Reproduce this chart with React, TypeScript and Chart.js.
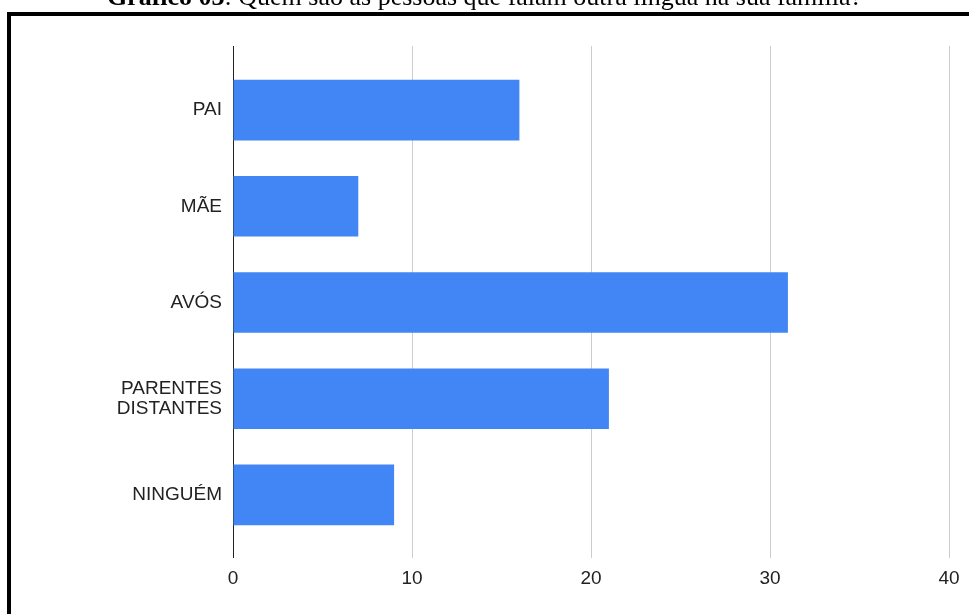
import React, { useEffect, useRef } from "react";
import { Chart, registerables } from "chart.js";

Chart.register(...registerables);

const categories: (string | string[])[] = ["PAI", "MÃE", "AVÓS", ["PARENTES", "DISTANTES"], "NINGUÉM"];
const values: number[] = [16, 7, 31, 21, 9];
const xTicks: number[] = [0, 10, 20, 30, 40];

const gridColor = (ctx: any) => (ctx.tick && ctx.tick.value === 0 ? "#222222" : "#cccccc");

export default function App() {
  const ref = useRef<HTMLCanvasElement>(null);
  useEffect(() => {
    if (!ref.current) return;
    const chart = new Chart(ref.current, {
      type: "bar",
      data: {
        labels: categories,
        datasets: [
          {
            data: values,
            backgroundColor: "#4285F4",
            borderWidth: 0,
            barPercentage: 0.9,
            categoryPercentage: 0.7,
          },
        ],
      },
      options: {
        indexAxis: "y",
        animation: false,
        responsive: false,
        layout: { padding: { top: 46, left: 0, right: 20, bottom: 0 } },
        plugins: { legend: { display: false }, tooltip: { enabled: false }, title: { display: false } },
        scales: {
          x: {
            type: "linear",
            position: "bottom",
            min: xTicks[0],
            max: xTicks[xTicks.length - 1],
            afterBuildTicks: (s: any) => {
              s.ticks = xTicks.map((v) => ({ value: v }));
            },
            afterFit: (s: any) => {
              s.height = 71;
            },
            border: { display: false },
            grid: { color: gridColor, lineWidth: 1, tickLength: 15, drawTicks: true },
            ticks: {
              color: "#222222",
              padding: 9,
              font: { family: "'Liberation Sans', Arial, sans-serif", size: 19 },
            },
          },
          xTop: {
            type: "linear",
            position: "top",
            min: xTicks[0],
            max: xTicks[xTicks.length - 1],
            afterBuildTicks: (s: any) => {
              s.ticks = xTicks.map((v) => ({ value: v }));
            },
            border: { display: false },
            grid: { color: gridColor, lineWidth: 1, tickLength: 16, drawTicks: true, drawOnChartArea: false },
            ticks: { display: false },
          },
          y: {
            type: "category",
            afterFit: (s: any) => {
              s.width = 233;
            },
            border: { display: false },
            grid: { display: false, drawTicks: false },
            ticks: {
              color: "#222222",
              padding: 11,
              font: { family: "'Liberation Sans', Arial, sans-serif", size: 19, lineHeight: 1.05 },
            },
          },
        },
      },
    });
    return () => chart.destroy();
  }, []);

  return (
    <div
      style={{
        position: "fixed",
        left: 0,
        top: 0,
        width: 969,
        height: 614,
        overflow: "hidden",
        background: "#ffffff",
      }}
    >
      <canvas ref={ref} width={969} height={614} style={{ position: "absolute", left: 0, top: 0 }} />
      <div
        style={{
          position: "absolute",
          left: 7,
          top: 12,
          width: 1100,
          height: 800,
          border: "4px solid #000000",
          pointerEvents: "none",
        }}
      />
      <div
        style={{
          position: "absolute",
          left: 0,
          width: 969,
          top: -16,
          textAlign: "center",
          fontFamily: "'Liberation Serif', 'Times New Roman', serif",
          fontSize: 26,
          lineHeight: "26px",
          color: "#000000",
          whiteSpace: "nowrap",
        }}
      >
        <b>Gráfico 03</b>: Quem são as pessoas que falam outra língua na sua família?
      </div>
    </div>
  );
}
